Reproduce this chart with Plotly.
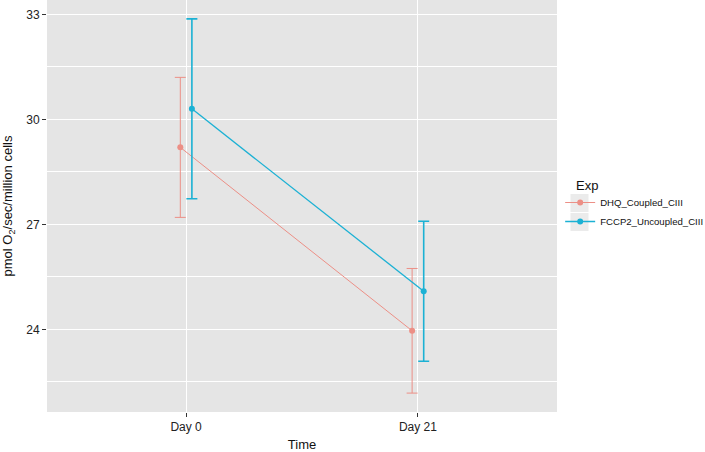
import plotly.graph_objects as go

# ── data ──────────────────────────────────────────────────────────────
TIME_LABELS = ["Day 0", "Day 21"]
SERIES = ["DHQ_Coupled_CIII", "FCCP2_Uncoupled_CIII"]

DHQ_MEAN = [29.20, 23.96]
DHQ_ERR = [2.00, 1.78]
FCCP_MEAN = [30.30, 25.09]
FCCP_ERR = [2.57, 2.00]

Y_TICKS = [24, 27, 30, 33]

COLOURS = {
    "DHQ_Coupled_CIII": "#EC8F86",
    "FCCP2_Uncoupled_CIII": "#1BB1D4",
}

DODGE = 0.025  # half of ggplot position_dodge width
FONT = "Liberation Sans, Arial, Helvetica, sans-serif"
PLOT_W, PLOT_L, PLOT_H = 510, 47, 412

pos = list(range(1, len(TIME_LABELS) + 1))

fig = go.Figure()

for name, means, errs, shift, lw, ew in [
    (SERIES[0], DHQ_MEAN, DHQ_ERR, -DODGE, 1.0, 1.0),
    (SERIES[1], FCCP_MEAN, FCCP_ERR, DODGE, 1.3, 1.6),
]:
    c = COLOURS[name]
    fig.add_trace(go.Scatter(
        x=[p + shift for p in pos], y=means, name=name,
        mode="lines+markers",
        line=dict(color=c, width=lw),
        marker=dict(color=c, size=6),
        error_y=dict(type="data", array=errs, visible=True,
                     color=c, thickness=ew, width=5.5),
    ))

fig.update_xaxes(
    range=[0.4, 2.6], tickmode="array", tickvals=pos, ticktext=TIME_LABELS,
    showgrid=True, gridcolor="white", gridwidth=1.2, zeroline=False,
    ticks="outside", ticklen=4, tickcolor="#333333", tickwidth=1,
    tickfont=dict(family=FONT, size=12, color="#222222"),
    title=dict(text="Time", font=dict(family=FONT, size=13, color="#111111"),
               standoff=11),
    automargin=False,
)
fig.update_yaxes(
    range=[21.64, 33.41], tickmode="array", tickvals=Y_TICKS,
    showgrid=True, gridcolor="white", gridwidth=1.2, zeroline=False,
    minor=dict(dtick=1.5, tick0=22.5, showgrid=True, gridcolor="white",
               gridwidth=0.6),
    ticks="outside", ticklen=4, tickcolor="#333333", tickwidth=1,
    tickfont=dict(family=FONT, size=12, color="#222222"),
    title=dict(text="pmol O<sub>2</sub>/sec/million cells",
               font=dict(family=FONT, size=13, color="#111111"), standoff=14),
    automargin=False,
)

# grey key backgrounds like ggplot's legend keys
for i in range(len(SERIES)):
    fig.add_shape(type="rect", xref="paper", yref="paper",
                  x0=(570.5 - PLOT_L) / PLOT_W, x1=(588.5 - PLOT_L) / PLOT_W,
                  y0=1 - (194 + 19 * i) / PLOT_H, y1=1 - (212 + 19 * i) / PLOT_H,
                  fillcolor="#EBEBEB", line_width=0, layer="below")

# legend title drawn separately so the entries can sit further left
fig.add_annotation(text="Exp", xref="paper", yref="paper",
                   x=(574 - PLOT_L) / PLOT_W, y=1 - 185 / PLOT_H,
                   xanchor="left", yanchor="middle", showarrow=False,
                   font=dict(family=FONT, size=13, color="#111111"))

fig.update_layout(
    width=705, height=452,
    margin=dict(l=PLOT_L, r=705 - PLOT_L - PLOT_W, t=0, b=452 - PLOT_H,
                autoexpand=False),
    plot_bgcolor="#E5E5E5", paper_bgcolor="white",
    font=dict(family=FONT),
    showlegend=True,
    legend=dict(
        font=dict(family=FONT, size=9.6, color="#111111"),
        x=1.0062, xanchor="left", y=1 - 188 / PLOT_H, yanchor="top",
        bgcolor="rgba(0,0,0,0)", itemwidth=30, tracegroupgap=0,
    ),
)

fig.write_html("out.html", config={"displayModeBar": False},
               post_script="document.body.style.margin='0';")
